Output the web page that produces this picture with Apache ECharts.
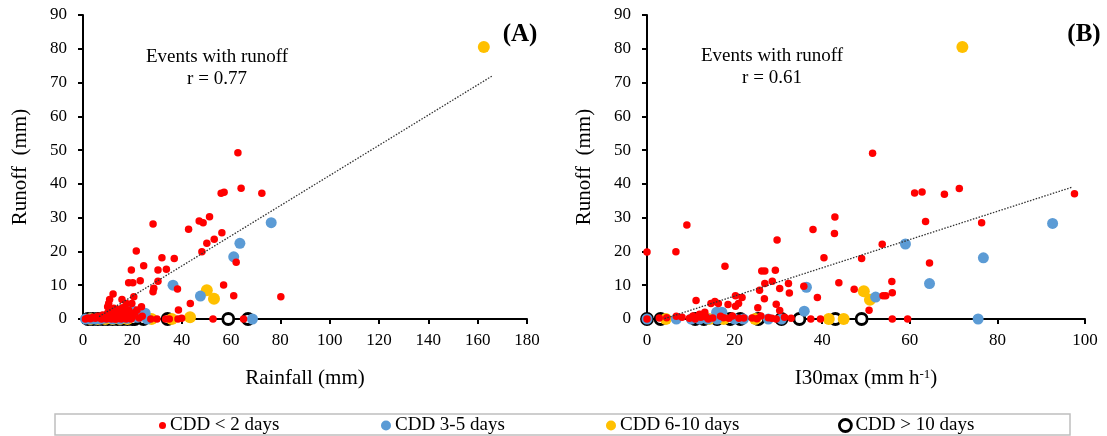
<!DOCTYPE html>
<html>
<head>
<meta charset="utf-8">
<script src="https://cdn.jsdelivr.net/npm/echarts@6/dist/echarts.min.js"></script>
<style>
  html, body { margin: 0; padding: 0; background: #fff; }
  #chart { width: 1107px; height: 436px; }
</style>
</head>
<body>
<div id="chart"></div>
<script>
// series names (legend)
const seriesNames = ["CDD < 2 days", "CDD 3-5 days", "CDD 6-10 days", "CDD > 10 days"];

// (A) rainfall (mm) vs runoff (mm)
const redA = [[62.8,49.2],[64.1,38.7],[72.5,37.2],[56.0,37.2],[57.2,37.5],[28.4,28.1],[42.8,26.6],[47.1,29.0],[48.7,28.5],[51.3,30.3],
  [56.3,25.5],[53.2,23.6],[50.2,22.4],[48.2,19.9],[62.1,16.8],[21.6,20.1],[32.0,18.1],[37.0,17.9],[19.6,14.5],[24.6,15.8],
  [30.4,14.5],[33.8,14.7],[18.5,10.7],[20.2,10.7],[23.2,11.3],[30.4,11.2],[28.4,8.1],[28.7,9.1],[38.3,8.9],[57.0,10.1],
  [61.1,6.9],[80.2,6.6],[43.5,4.6],[38.7,2.7],[12.2,7.4],[10.8,5.8],[10.4,4.6],[10.0,3.6],[15.8,5.8],[20.6,6.6],
  [17.6,4.6],[19.8,4.6],[23.7,3.6],[18.5,2.7],[21.9,2.7],[52.7,0],[65.1,0],[33.5,0],[35,0],[30,0],[27.5,0],[22.8,0.3],
  [24,0.8],[38.5,0],[40,0.2],[1,0],[2,0.3],[3,0.1],[4,0.5],[5,0.2],[6,0.8],[7,0.3],[8,1.2],[9,0.6],[10,1.8],[11,0.9],
  [12,2.4],[13,1.1],[14,0.4],[15,1.6],[16,0.7],[17,2.0],[18,0.3],[19,1.3],[20,0.5],[21,1.9],[7.5,0],[9.5,0],[11.5,0],
  [13.5,0],[15.5,0],[17.5,0],[19.5,0],[12.5,3.2],[14.5,2.8],[16,3.3],[11,2.8],[10.5,1.2],[13,0]];
const blueA = [[36.5,10],[47.6,6.8],[63.6,22.4],[61.1,18.4],[76.3,28.5],[68.7,0],[19.8,2.6],[25.2,1.7],[1,0],[3,0],
  [5,0],[7,0],[9,0.3],[12,0],[15,0],[18,0.2],[22,0.5],[26,0]];
const yellowA = [[162.5,80.5],[50.2,8.5],[53.1,6],[43.4,0.5],[36,0],[27.8,0],[3,0],[6,0],[9,0],[12,0],[15,0],[18,0]];
const ringA = [[58.9,0],[66.9,0],[34.3,0],[24.5,0],[21,0],[2,0],[4,0],[6,0],[8,0],[10,0],[12,0],[14,0],[16,0],[18,0],[20,0]];
const trendA = [[6.5,0.7],[166,72]];

// (B) I30max (mm h-1) vs runoff (mm)
const redB = [[0,19.8],[6.6,19.9],[9.1,27.8],[17.8,15.6],[51.5,49.1],[42.9,30.2],[42.8,25.3],[37.9,26.5],[29.7,23.4],[53.7,22.1],
  [40.4,18.1],[49.0,17.9],[26.2,14.2],[26.9,14.2],[29.3,14.4],[26.9,10.5],[28.6,11.2],[32.3,10.5],[32.5,7.7],[30.3,9.0],
  [25.7,8.5],[26.8,6.0],[43.8,10.7],[47.3,8.8],[35.8,9.7],[38.9,6.4],[53.9,6.9],[50.7,2.6],[11.2,5.5],[14.6,4.6],
  [15.5,5.2],[16.3,4.6],[18.5,4.3],[20.2,6.9],[21.7,6.4],[20.2,3.8],[20.9,4.6],[29.5,4.4],[30.3,2.5],[25.3,3.3],[13.2,2.0],
  [61.1,37.3],[62.8,37.6],[67.9,36.9],[71.3,38.6],[97.6,37.1],[63.6,28.9],[76.4,28.5],[64.5,16.6],[55.9,11.1],[56,7.8],
  [54.5,6.9],[56,0],[59.5,0],[0,0],[2.8,0.3],[6.7,0.8],[9.7,0.2],[12.3,0.5],[15,0.3],[16.8,0.8],[18.7,0.2],[22.1,0.3],
  [25.1,0.1],[27.7,0.4],[29.5,0],[31.4,0.5],[32.9,0.2],[37.4,0],[39.6,0],[4.5,0.4],[8,0.5],[11,0],[13.5,0.6],[14,0],
  [17.5,0.4],[19.5,0.9],[21,0.2],[24,0.3],[26,0.9],[28.5,0.2],[10.5,0.9],[12,1.4]];
const blueB = [[0,0],[6.7,0],[10.1,0],[12,0],[13.8,0],[15.9,2.0],[17.1,2.0],[20,0],[27.7,0],[30.7,0],[35.9,2.3],[36.4,9.4],
  [52.2,6.5],[59.0,22.2],[92.6,28.3],[76.8,18.1],[64.5,10.5],[75.6,0],[16,0],[22,0]];
const yellowB = [[72,80.5],[49.5,8.2],[50.9,5.7],[4.3,0],[24.7,0],[41.5,0],[44.9,0],[14.2,0],[17.5,0]];
const ringB = [[0,0],[3.1,0],[11,0],[13,0],[16,0],[19,0],[21.3,0],[25.4,0],[30.7,0],[34.8,0],[43.0,0],[49.0,0]];
const trendB = [[4,0.1],[97,39]];

const FONT = "'Liberation Serif', 'Times New Roman', serif";

function axisBase(labelMargin) {
  return {
    axisLine: { show: true, lineStyle: { color: "#000", width: 2 } },
    axisTick: { show: true, inside: false, length: 5, lineStyle: { color: "#000", width: 2 } },
    axisLabel: { color: "#000", fontSize: 17, fontFamily: FONT, margin: labelMargin },
    splitLine: { show: false },
  };
}

function scatterSeries(idx, ring, yellow, blue, red, trend) {
  return [
    { name: seriesNames[3], type: "scatter", xAxisIndex: idx, yAxisIndex: idx, data: ring, symbolSize: 11,
      itemStyle: { color: "#fff", borderColor: "#000", borderWidth: 2.8, opacity: 1 } },
    { name: seriesNames[2], type: "scatter", xAxisIndex: idx, yAxisIndex: idx, data: yellow, symbolSize: 12,
      itemStyle: { color: "#ffc000", opacity: 1 } },
    { name: seriesNames[1], type: "scatter", xAxisIndex: idx, yAxisIndex: idx, data: blue, symbolSize: 11,
      itemStyle: { color: "#5b9bd5", opacity: 1 } },
    { name: seriesNames[0], type: "scatter", xAxisIndex: idx, yAxisIndex: idx, data: red, symbolSize: 7.5,
      itemStyle: { color: "#ff0000", opacity: 1 } },
    { type: "line", xAxisIndex: idx, yAxisIndex: idx, data: trend, showSymbol: false, silent: true, z: 5,
      lineStyle: { color: "#333", width: 1.3, type: [1.5, 1.5] } },
  ];
}

function legendItem(name, left, size, itemStyle) {
  return {
    data: [name], left: left, top: 416, padding: 0, itemGap: 0,
    itemWidth: size, itemHeight: size, icon: "circle",
    itemStyle: itemStyle,
    textStyle: { color: "#000", fontSize: 19, fontFamily: FONT, padding: [0, 0, 0, -1] },
  };
}

let myChart = echarts.init(document.getElementById("chart"));
let option = {
  animation: false,
  backgroundColor: "#fff",
  textStyle: { fontFamily: FONT },
  grid: [
    { left: 83, top: 15, width: 444, height: 304 },
    { left: 647, top: 15, width: 438, height: 304 },
  ],
  xAxis: [
    Object.assign(axisBase(13), { gridIndex: 0, type: "value", min: 0, max: 180, interval: 20,
      name: "Rainfall (mm)", nameLocation: "middle", nameGap: 49,
      nameTextStyle: { color: "#000", fontSize: 21, fontFamily: FONT } }),
    Object.assign(axisBase(13), { gridIndex: 1, type: "value", min: 0, max: 100, interval: 20,
      name: "I30max (mm h{sup|-1})", nameLocation: "middle", nameGap: 49,
      nameTextStyle: { color: "#000", fontSize: 21, fontFamily: FONT,
        rich: { sup: { fontSize: 13, fontFamily: FONT, color: "#000", verticalAlign: "top", lineHeight: 12 } } } }),
  ],
  yAxis: [
    Object.assign(axisBase(16), { gridIndex: 0, type: "value", min: 0, max: 90, interval: 10,
      name: "Runoff  (mm)", nameLocation: "middle", nameGap: 52,
      nameTextStyle: { color: "#000", fontSize: 21, fontFamily: FONT } }),
    Object.assign(axisBase(16), { gridIndex: 1, type: "value", min: 0, max: 90, interval: 10,
      name: "Runoff  (mm)", nameLocation: "middle", nameGap: 52,
      nameTextStyle: { color: "#000", fontSize: 21, fontFamily: FONT } }),
  ],
  legend: [
    legendItem(seriesNames[0], 159, 7, { color: "#ff0000" }),
    legendItem(seriesNames[1], 381, 10, { color: "#5b9bd5" }),
    legendItem(seriesNames[2], 606, 10, { color: "#ffc000" }),
    legendItem(seriesNames[3], 838, 12, { color: "#fff", borderColor: "#000", borderWidth: 2.8 }),
  ],
  graphic: [
    { type: "rect", shape: { x: 55, y: 414, width: 1015, height: 21 }, silent: true,
      style: { fill: "none", stroke: "#bfbfbf", lineWidth: 1.5 } },
    { type: "text", x: 217, y: 57, silent: true,
      style: { text: "Events with runoff", font: "19px " + FONT, fill: "#000", textAlign: "center", textVerticalAlign: "middle" } },
    { type: "text", x: 217, y: 79, silent: true,
      style: { text: "r = 0.77", font: "19px " + FONT, fill: "#000", textAlign: "center", textVerticalAlign: "middle" } },
    { type: "text", x: 772, y: 56, silent: true,
      style: { text: "Events with runoff", font: "19px " + FONT, fill: "#000", textAlign: "center", textVerticalAlign: "middle" } },
    { type: "text", x: 772, y: 78, silent: true,
      style: { text: "r = 0.61", font: "19px " + FONT, fill: "#000", textAlign: "center", textVerticalAlign: "middle" } },
    { type: "text", x: 520, y: 35, silent: true,
      style: { text: "(A)", font: "bold 25px " + FONT, fill: "#000", textAlign: "center", textVerticalAlign: "middle" } },
    { type: "text", x: 1084, y: 35, silent: true,
      style: { text: "(B)", font: "bold 25px " + FONT, fill: "#000", textAlign: "center", textVerticalAlign: "middle" } },
  ],
  series: scatterSeries(0, ringA, yellowA, blueA, redA, trendA)
    .concat(scatterSeries(1, ringB, yellowB, blueB, redB, trendB)),
};
myChart.setOption(option);
</script>
</body>
</html>
